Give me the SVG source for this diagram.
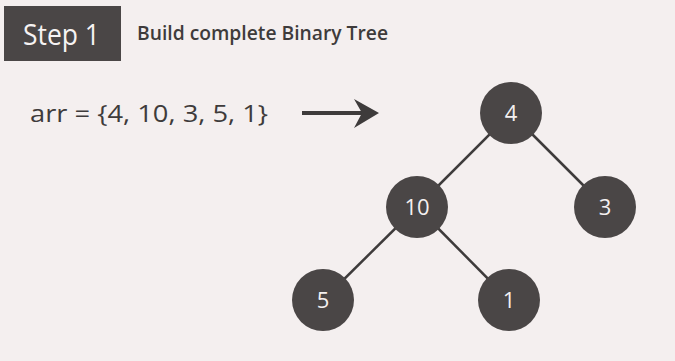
<svg xmlns="http://www.w3.org/2000/svg" width="675" height="361" viewBox="0 0 675 361">
<style>
.node circle{fill:#4a4646}
.node text{fill:#f4f0f0;font-family:"Open Sans","DejaVu Sans",sans-serif;font-size:22px;text-anchor:middle}
.edge{stroke:#3e3b3b;stroke-width:2.5;fill:none}
</style>
<rect width="675" height="361" fill="#f4efef"/>
<g id="header">
<rect x="4" y="6" width="117" height="55" fill="#4a4646"/>
<text x="23" y="45" fill="#f6f3f3" font-family="Open Sans, DejaVu Sans, sans-serif" font-size="30" textLength="77" lengthAdjust="spacingAndGlyphs">Step 1</text>
<text x="137" y="40" fill="#3e3b3b" font-family="Open Sans, DejaVu Sans, sans-serif" font-size="20" font-weight="600" textLength="251" lengthAdjust="spacingAndGlyphs">Build complete Binary Tree</text>
</g>
<g id="array">
<text x="30" y="122" fill="#3e3b3b" font-family="Open Sans, DejaVu Sans, sans-serif" font-size="23" textLength="238" lengthAdjust="spacingAndGlyphs">arr = {4, 10, 3, 5, 1}</text>
</g>
<g id="connectors">
<path d="M302 113H366" stroke="#3e3b3b" stroke-width="4" fill="none"/>
<path d="M354 99L379 113L354 128L362 113Z" fill="#3e3b3b"/>
<line class="edge" x1="511" y1="113" x2="417" y2="207"/>
<line class="edge" x1="511" y1="113" x2="605" y2="207"/>
<line class="edge" x1="417" y1="207" x2="323" y2="300"/>
<line class="edge" x1="417" y1="207" x2="509" y2="300"/>
</g>
<g id="n4" class="node"><circle cx="511" cy="113" r="31"/><text x="511" y="121">4</text></g>
<g id="n10" class="node"><circle cx="417" cy="207" r="31"/><text x="417" y="215">10</text></g>
<g id="n3" class="node"><circle cx="605" cy="207" r="31"/><text x="605" y="215">3</text></g>
<g id="n5" class="node"><circle cx="323" cy="300" r="31"/><text x="323" y="308">5</text></g>
<g id="n1" class="node"><circle cx="509" cy="300" r="31"/><text x="509" y="308">1</text></g>
</svg>
